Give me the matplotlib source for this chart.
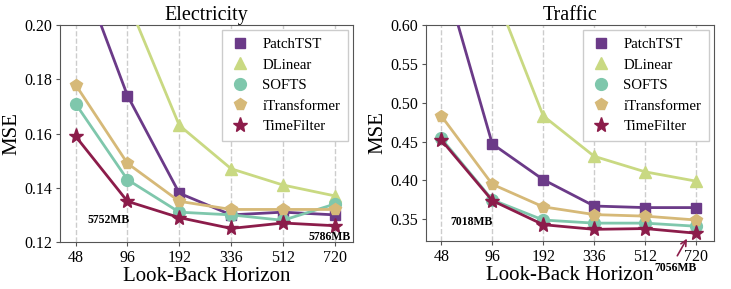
import numpy as np
import matplotlib.pyplot as plt

plt.rcParams['font.family'] = ['Liberation Serif', 'DejaVu Serif']

horizons = ['48', '96', '192', '336', '512', '720']
models = ['PatchTST', 'DLinear', 'SOFTS', 'iTransformer', 'TimeFilter']

# Electricity MSE
elec_patchtst = [0.225, 0.174, 0.138, 0.130, 0.131, 0.130]
elec_dlinear = [0.260, 0.209, 0.163, 0.147, 0.141, 0.137]
elec_softs = [0.171, 0.143, 0.131, 0.130, 0.128, 0.134]
elec_itrans = [0.178, 0.149, 0.135, 0.132, 0.132, 0.132]
elec_timefilter = [0.159, 0.135, 0.129, 0.125, 0.127, 0.126]

# Traffic MSE
traf_patchtst = [0.675, 0.447, 0.401, 0.367, 0.365, 0.365]
traf_dlinear = [0.800, 0.650, 0.483, 0.431, 0.411, 0.399]
traf_softs = [0.454, 0.375, 0.349, 0.345, 0.345, 0.341]
traf_itrans = [0.483, 0.395, 0.366, 0.356, 0.354, 0.349]
traf_timefilter = [0.452, 0.374, 0.343, 0.337, 0.338, 0.332]

colors = ['#6b3a88', '#c9d982', '#7fc7ac', '#d6b978', '#8c1c4a']
markers = ['s', '^', 'o', 'p', '*']
msizes = [7.5, 8, 8.5, 8.5, 11]

fig = plt.figure(figsize=(7.31, 2.89), dpi=100)
ax1 = fig.add_axes([60/731, 47/289, 293/731, 217/289])
ax2 = fig.add_axes([426/731, 48/289, 288/731, 216/289])

def draw(ax, series, title, ylim, yticks):
    x = np.arange(len(horizons))
    for xi in x:
        ax.axvline(xi, color='#cccccc', ls='--', lw=1, zorder=0)
    for s, name, c, m, ms in zip(series, models, colors, markers, msizes):
        ax.plot(x, s, color=c, lw=2, marker=m, markersize=ms, label=name, zorder=3)
    ax.set_xlim(-0.3, 5.35)
    ax.set_ylim(*ylim)
    ax.set_yticks(yticks)
    ax.set_yticklabels(['%.2f' % v for v in yticks])
    ax.set_xticks(x)
    ax.set_xticklabels(horizons)
    ax.tick_params(labelsize=11.5, length=3, color='#555555', pad=2.5)
    for sp in ax.spines.values():
        sp.set_color('#555555')
    ax.set_title(title, fontsize=14.5, pad=3)
    ax.set_xlabel('Look-Back Horizon', fontsize=15, labelpad=1)
    ax.set_ylabel('MSE', fontsize=15, labelpad=2)
    leg = ax.legend(loc='upper right', fontsize=10.7, handlelength=1.4, handletextpad=0.8,
                    borderpad=0.5, labelspacing=0.48, fancybox=False, framealpha=1,
                    edgecolor='#cccccc', numpoints=1, borderaxespad=0.35)
    for h in leg.legend_handles:
        h.set_linestyle('None')

draw(ax1, [elec_patchtst, elec_dlinear, elec_softs, elec_itrans, elec_timefilter],
     'Electricity', (0.12, 0.20), [0.12, 0.14, 0.16, 0.18, 0.20])
draw(ax2, [traf_patchtst, traf_dlinear, traf_softs, traf_itrans, traf_timefilter],
     'Traffic', (0.322, 0.60), [0.35, 0.40, 0.45, 0.50, 0.55, 0.60])

ax1.text(0.64, 0.1281, '5752MB', fontsize=8.5, fontweight='bold', ha='center', va='center')
ax1.text(4.9, 0.1218, '5786MB', fontsize=8.5, fontweight='bold', ha='center', va='center')
ax2.text(0.6, 0.347, '7018MB', fontsize=8.5, fontweight='bold', ha='center', va='center')
ax2.text(4.59, 0.2876, '7056MB', fontsize=8.5, fontweight='bold', ha='center', va='center',
         clip_on=False)
ax2.annotate('', xy=(4.82, 0.325), xytext=(4.63, 0.303), annotation_clip=False,
             arrowprops=dict(arrowstyle='->', color='#8c1c4a', lw=1.2, shrinkA=0, shrinkB=0))

fig.savefig('out.png', dpi=100)
